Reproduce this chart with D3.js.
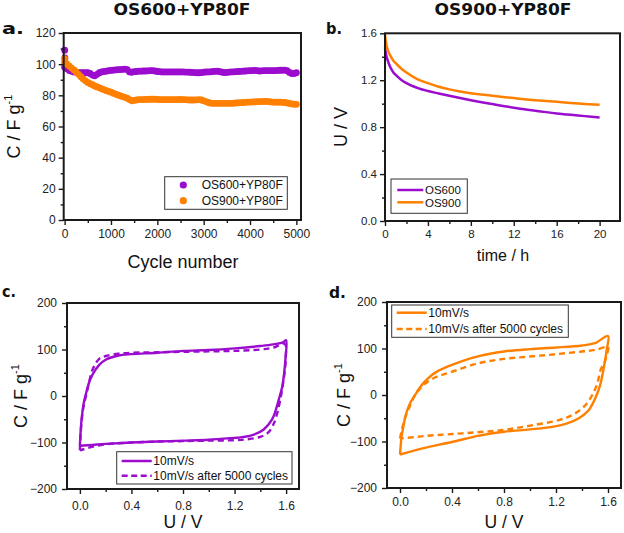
<!DOCTYPE html>
<html><head><meta charset="utf-8">
<script src="https://cdn.jsdelivr.net/npm/d3@7"></script>
<style>body{margin:0;background:#fff} svg{display:block} text{font-family:"Liberation Sans",Arial,sans-serif;fill:#111}</style>
</head><body><svg id="c" width="624" height="533"></svg>
<script>
// ---------- Panel a: capacitance vs cycle number ----------
const cycles = [0,50,100,150,200,250,300,350,400,450,500,550,600,650,700,750,800,850,900,950,
1000,1050,1100,1150,1200,1250,1300,1350,1400,1450,1500,1550,1600,1650,1700,1750,1800,1850,1900,1950,
2000,2050,2100,2150,2200,2250,2300,2350,2400,2450,2500,2550,2600,2650,2700,2750,2800,2850,2900,2950,
3000,3050,3100,3150,3200,3250,3300,3350,3400,3450,3500,3550,3600,3650,3700,3750,3800,3850,3900,3950,
4000,4050,4100,4150,4200,4250,4300,4350,4400,4450,4500,4550,4600,4650,4700,4750,4800,4850,4900,4950,5000];
const capOS600 = [98,97,96,95.5,95,94.8,94.5,94.5,94.5,94.5,94.5,94,93,92.5,93.5,94.5,95,95.3,95.5,95.8,
96,96.2,96.3,96.5,96.5,96.7,96.8,96.5,95,94.8,95.2,95.3,95.5,95.5,95.6,95.6,95.7,95.8,95.8,95.6,
95.3,95.2,95,95,95,95,95,95,95,95,95,95,94.9,94.9,94.8,94.7,94.6,94.5,94.5,94.6,
94.8,95,95,95.1,95.3,95.4,95.5,95.2,94.8,94.6,94.7,94.9,95,95.1,95.2,95.3,95.4,95.5,95.6,95.7,
95.8,95.9,96,95.8,95.6,95.7,95.8,95.9,95.9,95.8,95.8,95.9,96,96.1,96.1,96.2,95.8,94.7,94,94,94.5];
const capOS900 = [101,100,98.8,97.5,96.3,95,93.5,92,90.5,89.3,88.3,87.5,86.8,86,85.4,84.8,84.2,83.6,83,82.5,
82,81.4,80.8,80.2,79.7,79.2,78.7,78.2,77.3,76.5,76.8,77,77.2,77.3,77.3,77.4,77.4,77.5,77.5,77.5,
77.4,77.3,77.3,77.3,77.3,77.3,77.3,77.3,77.3,77.3,77.4,77.3,77.2,77.1,77,77,77,77.1,77.2,77,
76.5,76,75.4,75,74.9,74.9,74.9,74.9,74.9,74.9,74.9,74.9,74.9,75,75.1,75.2,75.3,75.4,75.5,75.6,
75.7,75.8,75.8,75.9,76,76,76.1,76.1,76,75.8,75.7,75.6,75.6,75.6,75.5,75.4,75.1,74.8,74.5,74.3,74.2];
const startCycles = [2, 6];
const startOS600 = [109, 104];
const startOS900 = [103.5, 102];

// ---------- Panel b: self-discharge ----------
const timeH = [0,0.1,0.25,0.5,0.75,1,1.5,2,3,4,5,6,7,8,9,10,11,12,13,14,15,16,17,18,19,20];
const voltOS600 = [1.48,1.42,1.37,1.31,1.27,1.245,1.205,1.175,1.135,1.108,1.087,1.067,1.048,1.03,1.013,0.997,0.981,0.966,0.952,0.94,0.928,0.917,0.908,0.899,0.891,0.883];
const voltOS900 = [1.59,1.52,1.46,1.41,1.37,1.345,1.30,1.265,1.21,1.175,1.145,1.122,1.104,1.089,1.078,1.068,1.058,1.048,1.038,1.03,1.023,1.016,1.009,1.002,0.996,0.99];

// ---------- Panel c: CV OS600+YP80F ----------
const cvcFreshU = [0,0.005,0.015,0.03,0.05,0.07,0.1,0.15,0.2,0.3,0.4,0.6,0.8,1.0,1.2,1.4,1.5,1.58,1.6,1.595,1.585,1.57,1.551,1.52,1.49,1.426,1.35,1.245,1.2,1.0,0.8,0.6,0.4,0.2,0.1,0];
const cvcFreshC = [-107,-80,-45,-15,8,28,47,67,78,87,90,93,97,99,102.5,107.5,111,116,120,80,50,20,0,-30,-51,-72,-83,-89,-90,-94,-96,-98,-100,-103,-105,-107];
const cvcAgedU = [0,0.005,0.015,0.03,0.05,0.07,0.1,0.15,0.2,0.3,0.4,0.6,0.8,1.0,1.2,1.4,1.5,1.59,1.598,1.59,1.575,1.56,1.53,1.5,1.46,1.4,1.3,1.2,1.0,0.8,0.6,0.4,0.2,0.1,0];
const cvcAgedC = [-117,-85,-50,-20,3,28,58,80,86,91,93,94,95,96,97,100,104,112,85,55,25,0,-38,-62,-79,-88,-93,-95,-96,-97,-98,-100,-104,-109,-117];

// ---------- Panel d: CV OS900+YP80F ----------
const cvdFreshU = [0,0.005,0.012,0.026,0.04,0.057,0.08,0.116,0.145,0.175,0.21,0.25,0.3,0.4,0.6,0.8,1.0,1.2,1.4,1.5,1.6,1.59,1.569,1.543,1.518,1.453,1.376,1.286,1.183,1.0,0.8,0.6,0.4,0.2,0.1,0];
const cvdFreshC = [-128,-110,-90,-68,-48,-32,-16,0,13,24,34,44,53,65,83,93.5,98.6,102,106.5,111.5,127,97,61,25,3.6,-32,-50,-61,-68,-74,-79,-88,-101,-113,-120,-128];
const cvdAgedU = [0,0.01,0.02,0.04,0.064,0.09,0.116,0.145,0.175,0.21,0.25,0.3,0.4,0.6,0.8,1.0,1.2,1.4,1.5,1.6,1.59,1.57,1.543,1.518,1.479,1.415,1.325,1.222,1.0,0.8,0.6,0.4,0.2,0.1,0];
const cvdAgedC = [-93.5,-80,-68,-48,-32,-15,0,11,20,28,35,41,50,68,77.7,82.7,87.8,93.5,97,103,85,68,54,25,0,-25,-43,-54,-66,-75,-80,-84,-88,-91,-93.5];

// tick values
const aXMajor = [0,1000,2000,3000,4000,5000], aXMinor = [500,1500,2500,3500,4500];
const aYMajor = [0,20,40,60,80,100,120], aYMinor = [10,30,50,70,90,110];
const bXMajor = [0,4,8,12,16,20], bXMinor = [2,6,10,14,18];
const bYMajor = [0,0.4,0.8,1.2,1.6], bYMinor = [0.2,0.6,1.0,1.4];
const cvXMajor = [0,0.4,0.8,1.2,1.6], cvXMinor = [0.2,0.6,1.0,1.4];
const cvYMajor = [-200,-100,0,100,200], cvYMinor = [-150,-50,50,150];

const PURPLE = "#9b0ccf", ORANGE = "#ff8000", INK = "#1a1a1a";
const svg = d3.select("#c");

function drawFrame(o) {
  const g = svg.append("g");
  const [x0, x1] = o.x.range(), [y0, y1] = o.y.range();
  const ax = (gen, vals, size, fmt, pad) => gen.tickValues(vals).tickSize(size).tickPadding(pad).tickFormat(fmt);
  const gb = g.append("g").attr("transform", `translate(0,${y0})`);
  gb.append("g").call(ax(d3.axisBottom(o.x), o.xMinor, 3, () => "", 0));
  gb.append("g").call(ax(d3.axisBottom(o.x), o.xMajor, 5, o.xFmt, o.xPad))
    .selectAll("text").attr("font-size", o.fs).style("fill", "#222");
  const gl = g.append("g").attr("transform", `translate(${x0},0)`);
  gl.append("g").call(ax(d3.axisLeft(o.y), o.yMinor, 3, () => "", 0));
  gl.append("g").call(ax(d3.axisLeft(o.y), o.yMajor, 5, o.yFmt, o.yPad))
    .selectAll("text").attr("font-size", o.fs).style("fill", "#222");
  g.selectAll(".domain").remove();
  g.selectAll(".tick line").attr("stroke", INK).attr("stroke-width", 1.4);
  g.append("rect").attr("x", x0).attr("y", y1).attr("width", x1 - x0).attr("height", y0 - y1)
    .attr("fill", "none").attr("stroke", INK).attr("stroke-width", 2);
  return g;
}
function cLabel(x, y) {
  const t = svg.append("text").attr("transform", `translate(${x},${y}) rotate(-90)`)
    .attr("text-anchor", "middle").attr("font-size", 18);
  t.append("tspan").text("C / F g");
  t.append("tspan").text("-1").attr("font-size", 11).attr("dy", -8);
  return t;
}
function plainLabel(x, y, txt, rot, fs) {
  return svg.append("text").attr("transform", `translate(${x},${y})` + (rot ? " rotate(-90)" : ""))
    .attr("text-anchor", "middle").attr("font-size", fs).text(txt);
}
function legendBox(x, y, w, h) {
  svg.append("rect").attr("x", x).attr("y", y).attr("width", w).attr("height", h)
    .attr("fill", "#fff").attr("stroke", "#333").attr("stroke-width", 1);
}

// titles
svg.append("text").attr("x", 182).attr("y", 14.5).attr("text-anchor", "middle")
  .style("font-family", "DejaVu Sans").attr("font-weight", "bold").attr("font-size", 15.5)
  .attr("textLength", 137).attr("lengthAdjust", "spacingAndGlyphs").text("OS600+YP80F");
svg.append("text").attr("x", 503).attr("y", 15).attr("text-anchor", "middle")
  .style("font-family", "DejaVu Sans").attr("font-weight", "bold").attr("font-size", 15.5)
  .attr("textLength", 137).attr("lengthAdjust", "spacingAndGlyphs").text("OS900+YP80F");
[["a.", 2, 34, 22], ["b.", 326, 34, 16], ["c.", 2, 297, 14], ["d.", 329, 298, 17]].forEach(([t, x, y, L]) =>
  svg.append("text").attr("x", x).attr("y", y).style("font-family", "DejaVu Sans").attr("font-weight", "bold")
    .attr("font-size", 15).attr("textLength", L).attr("lengthAdjust", "spacingAndGlyphs").text(t));

// ---------- panel a ----------
{
  const x = d3.scaleLinear().domain([-20, 5100]).range([63.7, 301]);
  const y = d3.scaleLinear().domain([0, 120]).range([220, 33]);
  const pts600 = startCycles.map((c, i) => [c, startOS600[i]]).concat(cycles.map((c, i) => [c, capOS600[i]]));
  const pts900 = startCycles.map((c, i) => [c, startOS900[i]]).concat(cycles.map((c, i) => [c, capOS900[i]]));
  svg.append("g").selectAll("circle").data(pts600).join("circle")
    .attr("cx", d => x(d[0])).attr("cy", d => y(d[1])).attr("r", 3.4).attr("fill", PURPLE);
  svg.append("g").selectAll("circle").data(pts900).join("circle")
    .attr("cx", d => x(d[0])).attr("cy", d => y(d[1])).attr("r", 3.4).attr("fill", ORANGE);
  drawFrame({x, y, xMajor: aXMajor, xMinor: aXMinor, yMajor: aYMajor, yMinor: aYMinor,
    xFmt: d3.format("d"), yFmt: d3.format("d"), xPad: 4, yPad: 3, fs: 12});
  legendBox(164.7, 176.7, 122.6, 32.6);
  [["OS600+YP80F", PURPLE, 185], ["OS900+YP80F", ORANGE, 200.7]].forEach(([t, c, yy]) => {
    svg.append("circle").attr("cx", 183.3).attr("cy", yy).attr("r", 3.6).attr("fill", c);
    svg.append("text").attr("x", 201.7).attr("y", yy + 4.3).attr("font-size", 12).text(t);
  });
  plainLabel(183, 268, "Cycle number", false, 18);
  cLabel(20, 126.5);
}

// ---------- panel b ----------
{
  const x = d3.scaleLinear().domain([0, 21.9]).range([385, 620]);
  const y = d3.scaleLinear().domain([0, 1.6]).range([221, 33.3]);
  const line = d3.line().x(d => x(d[0])).y(d => y(d[1])).curve(d3.curveMonotoneX);
  svg.append("path").attr("d", line(timeH.map((t, i) => [t, voltOS600[i]])))
    .attr("fill", "none").attr("stroke", PURPLE).attr("stroke-width", 2.5);
  svg.append("path").attr("d", line(timeH.map((t, i) => [t, voltOS900[i]])))
    .attr("fill", "none").attr("stroke", ORANGE).attr("stroke-width", 2.5);
  drawFrame({x, y, xMajor: bXMajor, xMinor: bXMinor, yMajor: bYMajor, yMinor: bYMinor,
    xFmt: d3.format("d"), yFmt: d3.format(".1f"), xPad: 4, yPad: 3, fs: 11.5});
  legendBox(391, 179, 76.3, 34.3);
  [["OS600", PURPLE, 190], ["OS900", ORANGE, 202.3]].forEach(([t, c, yy]) => {
    svg.append("line").attr("x1", 397.3).attr("x2", 423.3).attr("y1", yy).attr("y2", yy)
      .attr("stroke", c).attr("stroke-width", 2.5);
    svg.append("text").attr("x", 425).attr("y", yy + 4.2).attr("font-size", 11.5).text(t);
  });
  plainLabel(503, 261, "time / h", false, 16);
  plainLabel(347, 127, "U / V", true, 18);
}

// ---------- panels c & d ----------
function cvPanel(o) {
  const x = d3.scaleLinear().domain([-0.1, 1.7]).range(o.xr);
  const y = d3.scaleLinear().domain([-200, 200]).range(o.yr);
  const line = d3.line().x(d => x(d[0])).y(d => y(d[1])).curve(d3.curveCatmullRom.alpha(0.5));
  svg.append("path").attr("d", line(o.aU.map((u, i) => [u, o.aC[i]])))
    .attr("fill", "none").attr("stroke", o.color).attr("stroke-width", 2.4).attr("stroke-dasharray", "6,4");
  svg.append("path").attr("d", line(o.fU.map((u, i) => [u, o.fC[i]])))
    .attr("fill", "none").attr("stroke", o.color).attr("stroke-width", 2.4);
  drawFrame({x, y, xMajor: cvXMajor, xMinor: cvXMinor, yMajor: cvYMajor, yMinor: cvYMinor,
    xFmt: d3.format(".1f"), yFmt: d3.format("d"), xPad: o.xPad, yPad: 5, fs: 12});
  const L = o.leg;
  legendBox(L.x, L.y, L.w, L.h);
  [["10mV/s", null, L.r1], ["10mV/s after 5000 cycles", "6,3.5", L.r2]].forEach(([t, dash, yy]) => {
    svg.append("line").attr("x1", L.lx1).attr("x2", L.lx2).attr("y1", yy).attr("y2", yy)
      .attr("stroke", o.color).attr("stroke-width", 2.5).attr("stroke-dasharray", dash);
    svg.append("text").attr("x", L.tx).attr("y", yy + 4.3).attr("font-size", 12).text(t);
  });
  plainLabel((o.xr[0] + o.xr[1]) / 2, 528, "U / V", false, 17.5);
  cLabel(o.cx, (o.yr[0] + o.yr[1]) / 2);
}
cvPanel({xr: [67, 299], yr: [489, 303], color: PURPLE, aU: cvcAgedU, aC: cvcAgedC, fU: cvcFreshU, fC: cvcFreshC,
  xPad: 7, cx: 27,
  leg: {x: 116.7, y: 451.7, w: 175.3, h: 32.3, lx1: 121.7, lx2: 151.7, tx: 153.3, r1: 461, r2: 475.7}});
cvPanel({xr: [387, 621], yr: [488, 302], color: ORANGE, aU: cvdAgedU, aC: cvdAgedC, fU: cvdFreshU, fC: cvdFreshC,
  xPad: 4, cx: 350,
  leg: {x: 391.7, y: 305, w: 176.6, h: 32.3, lx1: 396.7, lx2: 426.7, tx: 428.3, r1: 312.7, r2: 329}});
</script></body></html>
